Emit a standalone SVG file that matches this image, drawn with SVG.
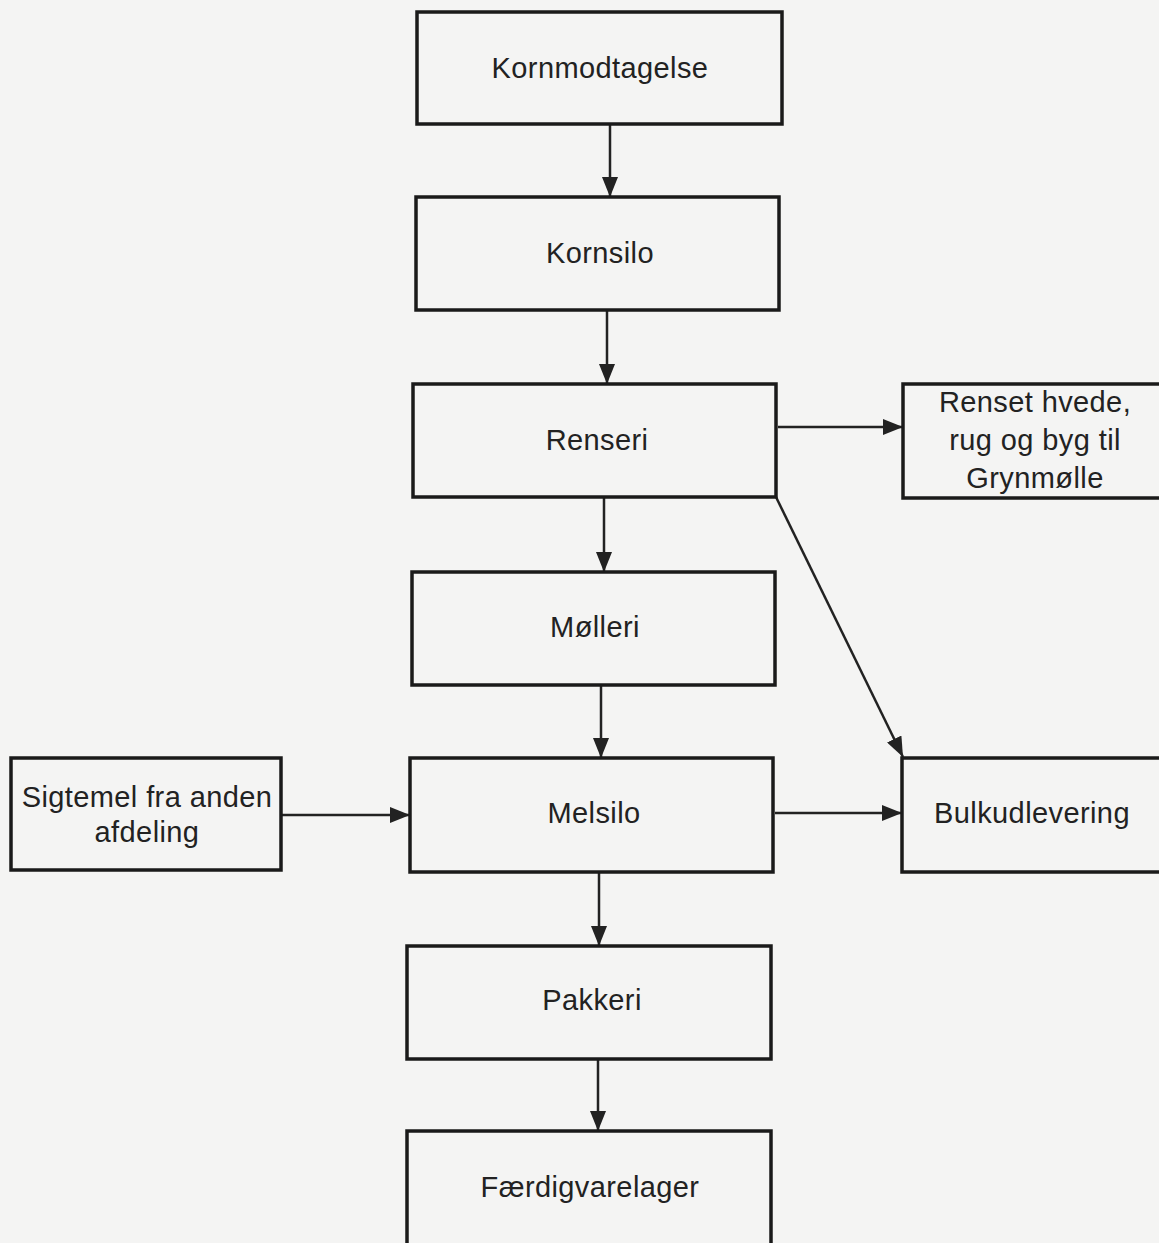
<svg xmlns="http://www.w3.org/2000/svg" width="1159" height="1243" viewBox="0 0 1159 1243">
<style>
.box{fill:none;stroke:#1a1a1a;stroke-width:3.5}
.t{font-family:"Liberation Sans",Arial,sans-serif;font-size:29px;fill:#222;text-anchor:middle;letter-spacing:0.4px}
.c{stroke:#222;stroke-width:2.5;fill:none}
</style>
<defs>
<marker id="ah" markerWidth="10" markerHeight="10" refX="9" refY="5" orient="auto" markerUnits="userSpaceOnUse" viewBox="0 0 10 10">
<path d="M0,0 L10,5 L0,10 Z" fill="#222"/>
</marker>
<marker id="a" viewBox="0 0 20 16" refX="20" refY="8" markerWidth="20" markerHeight="16" orient="auto" markerUnits="userSpaceOnUse">
<path d="M0,0 L20,8 L0,16 Z" fill="#222"/>
</marker>
</defs>
<rect width="1159" height="1243" fill="#f4f4f3"/>
<g id="connectors">
<line class="c" x1="610" y1="124" x2="610" y2="197" marker-end="url(#a)"/>
<line class="c" x1="607" y1="310" x2="607" y2="384" marker-end="url(#a)"/>
<line class="c" x1="604" y1="497" x2="604" y2="572" marker-end="url(#a)"/>
<line class="c" x1="601" y1="685" x2="601" y2="758" marker-end="url(#a)"/>
<line class="c" x1="599" y1="872" x2="599" y2="946" marker-end="url(#a)"/>
<line class="c" x1="598" y1="1059" x2="598" y2="1131" marker-end="url(#a)"/>
<line class="c" x1="778" y1="427" x2="903" y2="427" marker-end="url(#a)"/>
<line class="c" x1="281" y1="815" x2="410" y2="815" marker-end="url(#a)"/>
<line class="c" x1="775" y1="813" x2="902" y2="813" marker-end="url(#a)"/>
<line class="c" x1="776" y1="497" x2="903" y2="757" stroke-width="2" marker-end="url(#a)"/>
</g>
<g id="kornmodtagelse"><rect class="box" x="417" y="12" width="365" height="112"/><text class="t" x="600" y="78">Kornmodtagelse</text></g>
<g id="kornsilo"><rect class="box" x="416" y="197" width="363" height="113"/><text class="t" x="600" y="263">Kornsilo</text></g>
<g id="renseri"><rect class="box" x="413" y="384" width="363" height="113"/><text class="t" x="597" y="450">Renseri</text></g>
<g id="grynmoelle"><rect class="box" x="903" y="384" width="270" height="114"/><text class="t" x="1035" y="412">Renset hvede,</text><text class="t" x="1035" y="450">rug og byg til</text><text class="t" x="1035" y="488">Grynmølle</text></g>
<g id="moelleri"><rect class="box" x="412" y="572" width="363" height="113"/><text class="t" x="595" y="637">Mølleri</text></g>
<g id="sigtemel"><rect class="box" x="11" y="758" width="270" height="112"/><text class="t" x="147" y="807">Sigtemel fra anden</text><text class="t" x="147" y="842">afdeling</text></g>
<g id="melsilo"><rect class="box" x="410" y="758" width="363" height="114"/><text class="t" x="594" y="823">Melsilo</text></g>
<g id="bulkudlevering"><rect class="box" x="902" y="758" width="270" height="114"/><text class="t" x="1032" y="823">Bulkudlevering</text></g>
<g id="pakkeri"><rect class="box" x="407" y="946" width="364" height="113"/><text class="t" x="592" y="1010">Pakkeri</text></g>
<g id="faerdigvarelager"><rect class="box" x="407" y="1131" width="364" height="120"/><text class="t" x="590" y="1197">Færdigvarelager</text></g>
</svg>
